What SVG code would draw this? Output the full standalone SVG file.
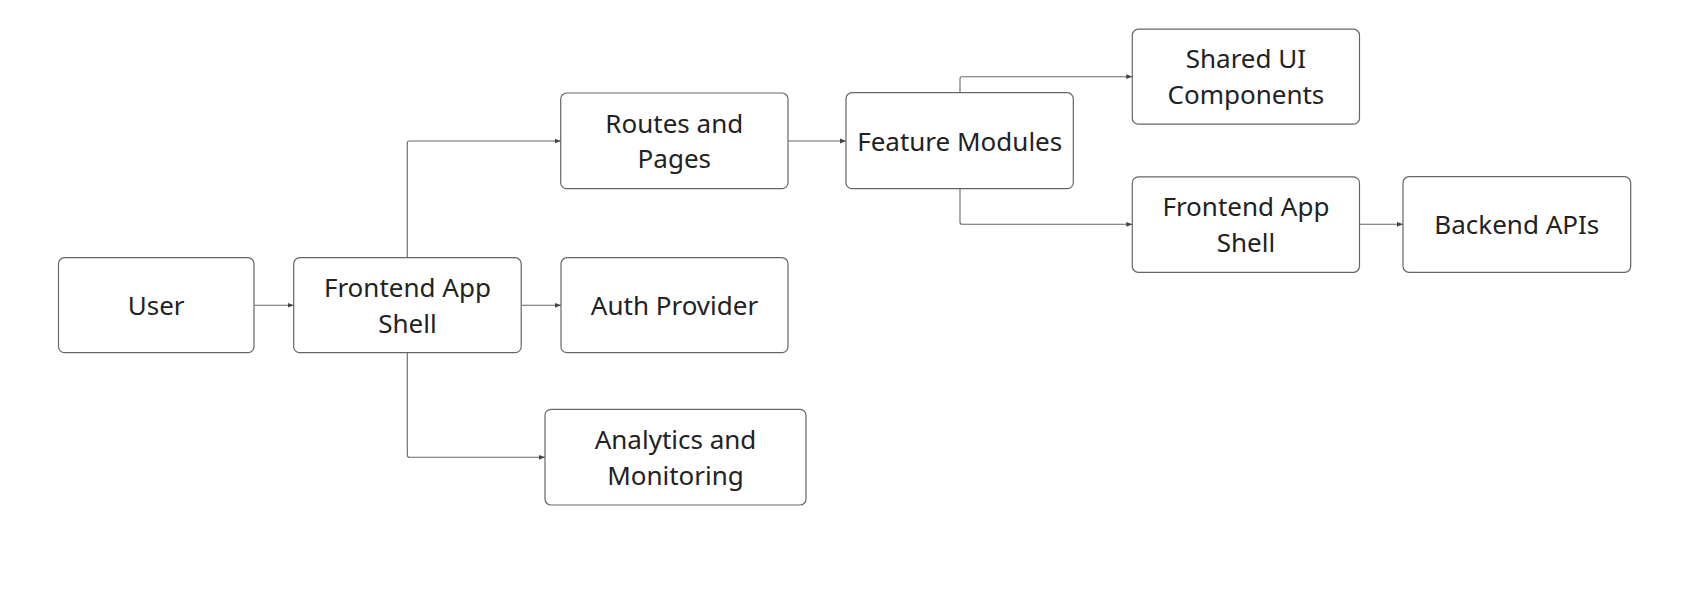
<svg xmlns="http://www.w3.org/2000/svg" width="1686" height="592" viewBox="0 0 1686 592">
<style>
.box{fill:#ffffff;stroke:#666666;stroke-width:1.2}
.lbl{font-family:"Noto Sans","Open Sans",sans-serif;font-size:26px;fill:#222222;text-anchor:middle}
.edge{fill:none;stroke:#666666;stroke-width:1.1}
</style>
<defs>
<marker id="arr" viewBox="0 0 6 6" refX="6" refY="3" markerWidth="6" markerHeight="6" markerUnits="userSpaceOnUse" orient="auto">
<path d="M0,0.6 L6,3 L0,5.4 Z" fill="#444444"/>
</marker>
</defs>
<rect width="1686" height="592" fill="#ffffff"/>
<g id="connectors">
<path class="edge" marker-end="url(#arr)" d="M254,305.3 L293.7,305.3"/>
<path class="edge" marker-end="url(#arr)" d="M521.2,305.3 L561,305.3"/>
<path class="edge" marker-end="url(#arr)" d="M407.3,257.7 L407.3,143 Q407.3,141 409.3,141 L560.7,141"/>
<path class="edge" marker-end="url(#arr)" d="M407.3,352.7 L407.3,455.3 Q407.3,457.3 409.3,457.3 L545,457.3"/>
<path class="edge" marker-end="url(#arr)" d="M788,141 L846,141"/>
<path class="edge" marker-end="url(#arr)" d="M960,92.7 L960,78.7 Q960,76.7 962,76.7 L1132.3,76.7"/>
<path class="edge" marker-end="url(#arr)" d="M960,188.7 L960,222.3 Q960,224.3 962,224.3 L1132.3,224.3"/>
<path class="edge" marker-end="url(#arr)" d="M1359.5,224.3 L1403,224.3"/>
</g>
<g id="user">
<rect class="box" x="58.5" y="257.7" width="195.5" height="95" rx="6"/>
<text class="lbl" x="156.2" y="314.6">User</text>
</g>
<g id="frontend-shell">
<rect class="box" x="293.7" y="257.7" width="227.5" height="95" rx="6"/>
<text class="lbl" x="407.4" y="296.7">Frontend App</text>
<text class="lbl" x="407.4" y="332.5">Shell</text>
</g>
<g id="routes-pages">
<rect class="box" x="560.7" y="93" width="227.3" height="95.7" rx="6"/>
<text class="lbl" x="674.3" y="132.6">Routes and</text>
<text class="lbl" x="674.3" y="168.4">Pages</text>
</g>
<g id="auth-provider">
<rect class="box" x="561" y="257.7" width="227" height="95" rx="6"/>
<text class="lbl" x="674.5" y="314.6">Auth Provider</text>
</g>
<g id="analytics">
<rect class="box" x="545" y="409.3" width="261" height="95.7" rx="6"/>
<text class="lbl" x="675.5" y="448.8">Analytics and</text>
<text class="lbl" x="675.5" y="484.6">Monitoring</text>
</g>
<g id="feature-modules">
<rect class="box" x="846" y="92.7" width="227.3" height="96" rx="6"/>
<text class="lbl" x="959.7" y="150.5">Feature Modules</text>
</g>
<g id="shared-ui">
<rect class="box" x="1132.3" y="29.2" width="227.2" height="95" rx="6"/>
<text class="lbl" x="1245.9" y="68.2">Shared UI</text>
<text class="lbl" x="1245.9" y="104">Components</text>
</g>
<g id="frontend-shell-2">
<rect class="box" x="1132.3" y="176.8" width="227.2" height="95.5" rx="6"/>
<text class="lbl" x="1245.9" y="215.8">Frontend App</text>
<text class="lbl" x="1245.9" y="251.6">Shell</text>
</g>
<g id="backend-apis">
<rect class="box" x="1403" y="176.7" width="227.7" height="95.6" rx="6"/>
<text class="lbl" x="1516.8" y="233.6">Backend APIs</text>
</g>
</svg>
